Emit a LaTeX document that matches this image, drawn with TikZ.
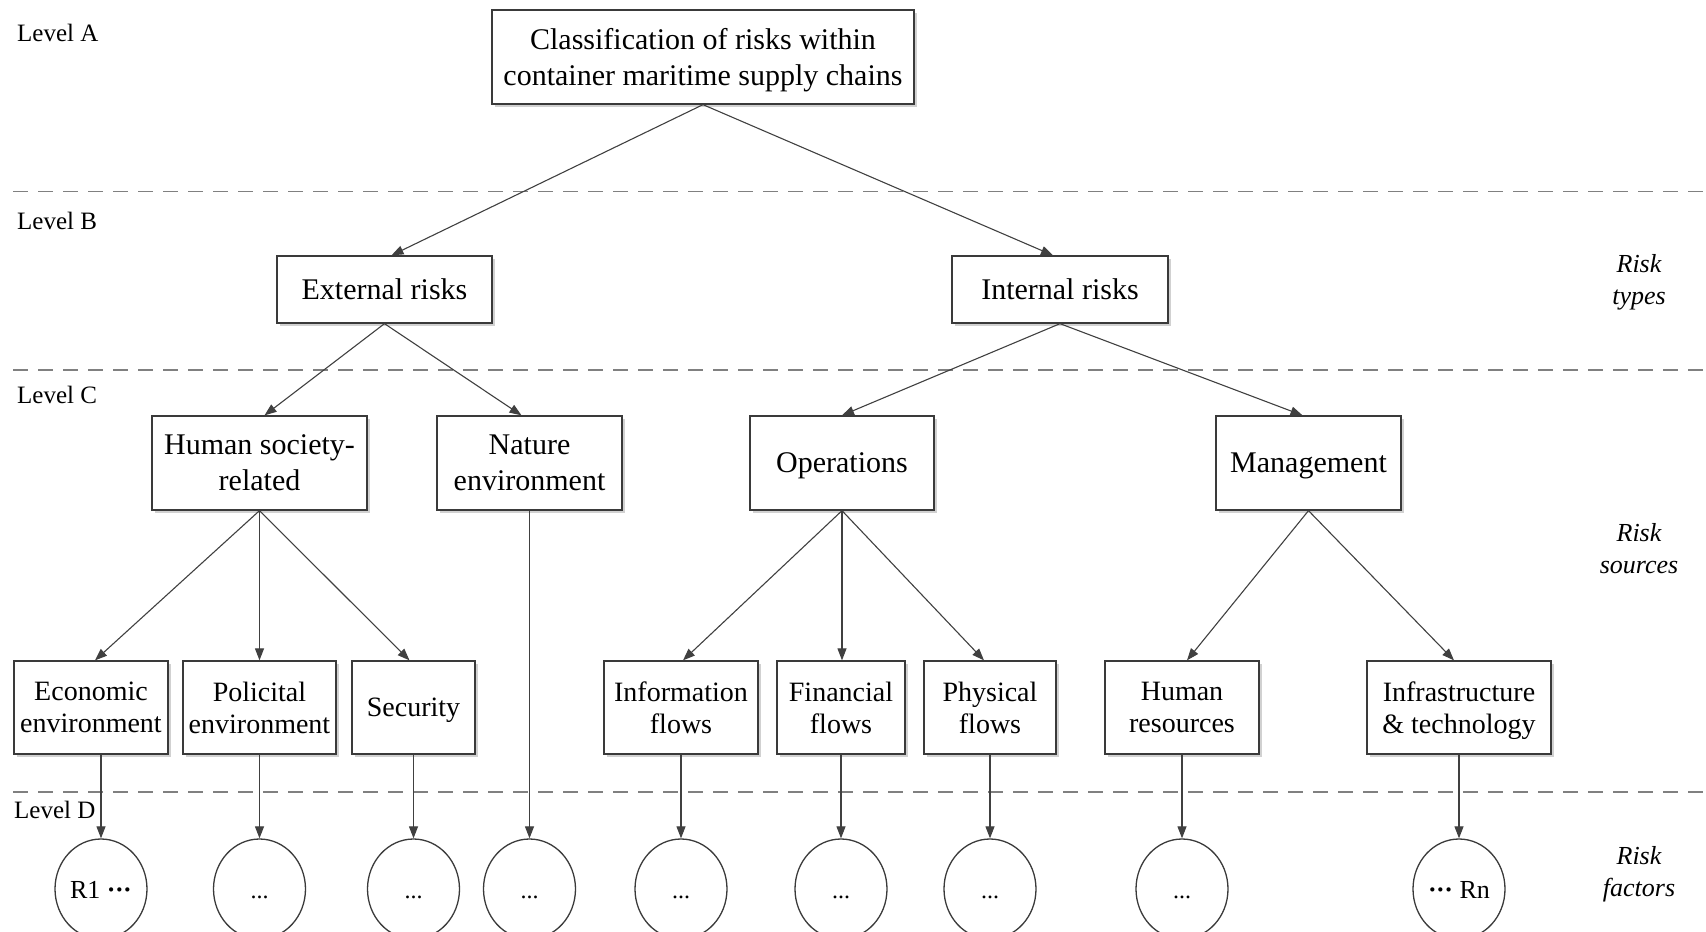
\documentclass[tikz,border=0pt]{standalone}
\usepackage{fontspec}
\setmainfont{Liberation Serif}
\usetikzlibrary{arrows.meta,shadows,shapes.geometric,calc}
\definecolor{boxc}{HTML}{3A3A3A}
\definecolor{arrc}{HTML}{404040}
\definecolor{dashc}{HTML}{808080}
\newcommand{\rdots}{{\bfseries\textperiodcentered\kern-0.02em\textperiodcentered\kern-0.02em\textperiodcentered}}
\begin{document}
\begin{tikzpicture}[x=1pt,y=-1pt,
  box/.style={draw=boxc, line width=1.3pt, fill=white, align=center, inner sep=0pt,
    text depth=0pt, font=\fontsize{30}{36}\selectfont,
    drop shadow={shadow xshift=3pt,shadow yshift=-3pt,fill=black!30,opacity=0.6}},
  sbox/.style={box, font=\fontsize{28}{32}\selectfont},
  sz/.style 2 args={minimum width=#1pt, minimum height=#2pt},
  ell/.style={draw=boxc, line width=1.3pt, ellipse, minimum width=92pt, minimum height=100pt,
    inner sep=0pt, text height=18pt, text depth=0pt, font=\fontsize{24}{28}\selectfont},
  arr/.style={draw=arrc, line width=1.1pt, -{Triangle[length=12pt,width=9pt]}},
  sep/.style={draw=dashc, line width=1.5pt, dash pattern=on 15pt off 10pt},
  lvl/.style={anchor=west, inner sep=0pt, font=\fontsize{25}{30}\selectfont},
  side/.style={align=center, inner sep=0pt, font=\fontsize{26}{32}\selectfont\itshape}]
\useasboundingbox (0,0) rectangle (1706,932);
\clip (0,0) rectangle (1706,932);

% separators
\coordinate (sAl) at (13,191.5); \coordinate (sAr) at (1706,191.5);
\coordinate (sBl) at (13,370);   \coordinate (sBr) at (1706,370);
\coordinate (sCl) at (13,792);   \coordinate (sCr) at (1706,792);
\draw[sep] (sAl) -- (sAr);
\draw[sep] (sBl) -- (sBr);
\draw[sep] (sCl) -- (sCr);

% level labels
\node[lvl] (lA) at (17,33) {Level A};
\node[lvl] (lB) at (17,221) {Level B};
\node[lvl] (lC) at (17,395) {Level C};
\node[lvl] (lD) at (14,810) {Level D};

% side labels
\node[side] (tTypes) at (1639,282) {Risk\\types};
\node[side] (tSources) at (1639,548.5) {Risk\\sources};
\node[side] (tFactors) at (1639,874) {Risk\\factors};

% level A
\node[box, sz={422}{94}] (top) at (703,57) {Classification of risks within\\container maritime supply chains};
% level B
\node[box, sz={215}{67}] (ext) at (384.5,289.5) {External risks};
\node[box, sz={216}{67}] (int) at (1060,289.5) {Internal risks};
% level C
\node[box, sz={215}{94}] (hum) at (259.5,463) {Human society-\\related};
\node[box, sz={185}{94}] (nat) at (529.5,463) {Nature\\environment};
\node[box, sz={184}{94}] (ops) at (842,463) {Operations};
\node[box, sz={185}{94}] (mgt) at (1308.5,463) {Management};
% level D boxes
\node[sbox, sz={154}{93}] (eco) at (91,707.5) {Economic\\environment};
\node[sbox, sz={153}{93}] (pol) at (259.5,707.5) {Policital\\environment};
\node[sbox, sz={123}{93}] (sec) at (413.5,707.5) {Security};
\node[sbox, sz={154}{93}] (inf) at (681,707.5) {Information\\flows};
\node[sbox, sz={128}{93}] (fin) at (841,707.5) {Financial\\flows};
\node[sbox, sz={132}{93}] (phy) at (990,707.5) {Physical\\flows};
\node[sbox, sz={154}{93}] (hr) at (1182,707.5) {Human\\resources};
\node[sbox, sz={184}{93}] (ist) at (1459,707.5) {Infrastructure\\\& technology};

% ellipses
\node[ell] (e1) at (101,889) {\fontsize{26}{30}\selectfont R1 \rdots};
\node[ell] (e2) at (259.5,889) {...};
\node[ell] (e3) at (413.5,889) {...};
\node[ell] (e4) at (529.5,889) {...};
\node[ell] (e5) at (681,889) {...};
\node[ell] (e6) at (841,889) {...};
\node[ell] (e7) at (990,889) {...};
\node[ell] (e8) at (1182,889) {...};
\node[ell] (e9) at (1459,889) {\fontsize{26}{30}\selectfont \rdots\ Rn};

% connectors
\draw[arr] (top.south) -- ($(ext.north)+(7,0)$);
\draw[arr] (top.south) -- ($(int.north)+(-7,0)$);
\draw[arr] (ext.south) -- ($(hum.north)+(5,0)$);
\draw[arr] (ext.south) -- ($(nat.north)+(-8,0)$);
\draw[arr] (int.south) -- (ops.north);
\draw[arr] (int.south) -- ($(mgt.north)+(-6,0)$);
\draw[arr] (hum.south) -- ($(eco.north)+(4,0)$);
\draw[arr] (hum.south) -- (pol.north);
\draw[arr] (hum.south) -- ($(sec.north)+(-4,0)$);
\draw[arr] (ops.south) -- ($(inf.north)+(2,0)$);
\draw[arr] (ops.south) -- (ops.south |- fin.north);
\draw[arr] (ops.south) -- ($(phy.north)+(-6,0)$);
\draw[arr] (mgt.south) -- ($(hr.north)+(5,0)$);
\draw[arr] (mgt.south) -- ($(ist.north)+(-5,0)$);
\draw[arr] (nat.south) -- (e4.north);
\draw[arr] (eco.south -| e1.north) -- (e1.north);
\draw[arr] (pol.south) -- (e2.north);
\draw[arr] (sec.south) -- (e3.north);
\draw[arr] (inf.south) -- (e5.north);
\draw[arr] (fin.south) -- (e6.north);
\draw[arr] (phy.south) -- (e7.north);
\draw[arr] (hr.south) -- (e8.north);
\draw[arr] (ist.south) -- (e9.north);
\end{tikzpicture}
\end{document}
